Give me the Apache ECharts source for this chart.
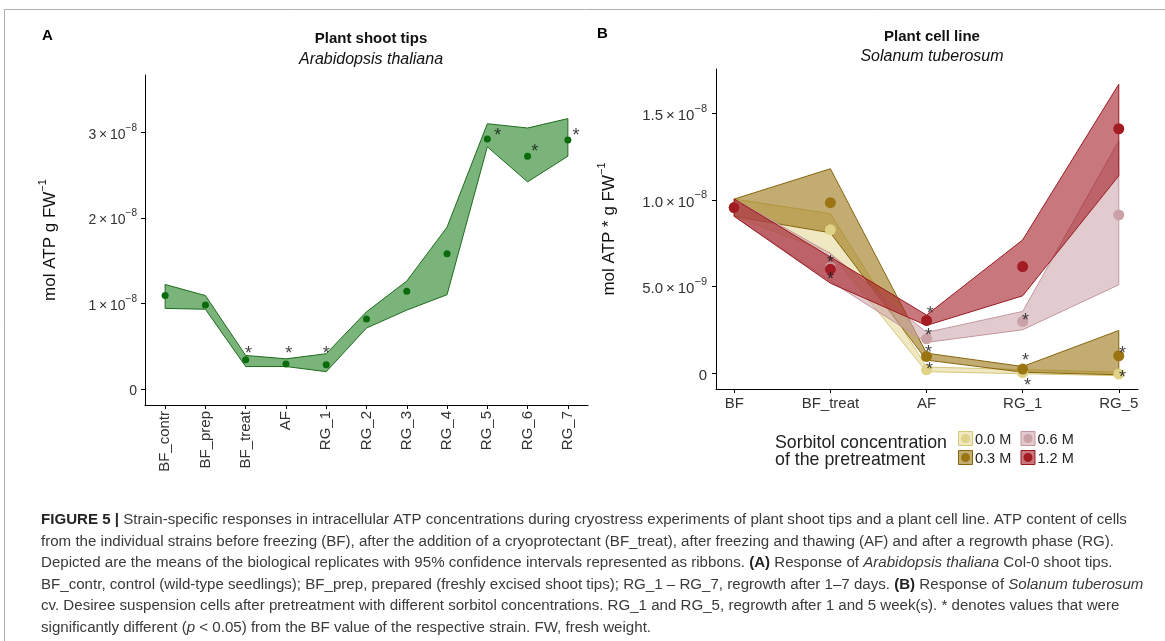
<!DOCTYPE html>
<html><head><meta charset="utf-8">
<script src="https://cdn.jsdelivr.net/npm/echarts@6/dist/echarts.min.js"></script>
<style>html,body{margin:0;padding:0;background:#fff}#c{width:1165px;height:641px}</style>
</head><body><div id="c"></div>
<script>
// ---------- Panel A data (values in units of 1e-8 mol ATP g FW^-1) ----------
const catsA = ['BF_contr','BF_prep','BF_treat','AF','RG_1','RG_2','RG_3','RG_4','RG_5','RG_6','RG_7'];
const meanA = [1.09, 0.98, 0.34, 0.29, 0.28, 0.815, 1.14, 1.58, 2.92, 2.72, 2.91];
const loA   = [0.94, 0.93, 0.26, 0.26, 0.20, 0.71, 0.92, 1.10, 2.83, 2.42, 2.72];
const hiA   = [1.22, 1.09, 0.39, 0.35, 0.41, 0.90, 1.26, 1.89, 3.10, 3.05, 3.16];
// significance stars: [x position (category index), y value]
const starsA = [[2.07,0.45],[3.07,0.45],[4.0,0.45],[8.26,3.0],[9.18,2.815],[10.2,3.0]];
const yTicksA = [0, 1, 2, 3];
const yMantA  = ['0', '1', '2', '3'];
const yExpA   = ['', '−8', '−8', '−8'];

// ---------- Panel B data (values in units of 1e-9 mol ATP * g FW^-1) ----------
const catsB = ['BF','BF_treat','AF','RG_1','RG_5'];
const concB = ['0.0 M','0.3 M','0.6 M','1.2 M'];
const mean00 = [9.56, 8.27, 0.19, 0.02, -0.06];
const mean03 = [9.56, 9.84, 0.96, 0.23, 1.00];
const mean06 = [9.56, 6.10, 1.98, 2.98, 9.13];
const mean12 = [9.56, 6.00, 3.04, 6.15, 14.11];
const lo00 = [9.05, 6.95, 0.08, -0.04, -0.15];
const lo03 = [9.05, 8.10, 0.75, 0.05, -0.10];
const lo06 = [9.05, 5.30, 1.77, 2.50, 5.10];
const lo12 = [9.05, 5.19, 2.75, 4.46, 11.39];
const hi00 = [10.05, 9.20, 0.35, 0.20, 0.05];
const hi03 = [10.05, 11.80, 1.15, 0.38, 2.46];
const hi06 = [10.05, 6.90, 2.35, 3.56, 13.40];
const hi12 = [10.05, 6.70, 3.35, 7.69, 16.68];
const starsB = [[1.0,6.58],[1.0,5.61],[2.04,3.65],[2.02,2.37],[2.02,1.40],[2.03,0.38],
                [3.03,3.21],[3.03,0.92],[3.05,-0.52],[4.04,1.35],[4.04,-0.06]];
const yTicksB = [0, 5, 10, 15];
const yMantB  = ['0', '5.0', '1.0', '1.5'];
const yExpB   = ['', '−9', '−8', '−8'];

// ---------- styles ----------
const FONT = 'Liberation Sans, Arial, Helvetica, sans-serif';
const TXT = '#333333';
const colB    = ['#e0d286', '#9a7512', '#c9a1a6', '#a31c24'];
const fillB   = ['rgba(224,210,134,0.5)', 'rgba(154,117,18,0.6)', 'rgba(201,161,166,0.55)', 'rgba(163,28,36,0.6)'];
const strokeB = ['#d6c87a', '#86660f', '#c397a0', '#9a1a22'];

const meansB = [mean00, mean03, mean06, mean12];
const losB = [lo00, lo03, lo06, lo12];
const hisB = [hi00, hi03, hi06, hi12];

function idx(n){ return Array.from({length:n}, (_, i) => i); }

function ribbon(xs, lo, hi, fill, stroke, axis, z){
  return {
    type: 'custom', xAxisIndex: axis, yAxisIndex: axis, z: z, silent: true, clip: false,
    data: [[xs[0], lo[0]]],
    renderItem: function(params, api){
      const pts = [];
      for (let i = 0; i < xs.length; i++) pts.push(api.coord([xs[i], hi[i]]));
      for (let i = xs.length - 1; i >= 0; i--) pts.push(api.coord([xs[i], lo[i]]));
      return {type: 'polygon', shape: {points: pts}, style: {fill: fill, stroke: stroke, lineWidth: 1}};
    }
  };
}
function points(xs, ys, color, size, axis, z){
  return {type: 'scatter', xAxisIndex: axis, yAxisIndex: axis, z: z, silent: true,
    symbol: 'circle', symbolSize: size, itemStyle: {color: color, opacity: 1},
    data: xs.map((x, i) => [x, ys[i]])};
}
function stars(list, axis){
  return {type: 'scatter', xAxisIndex: axis, yAxisIndex: axis, z: 20, silent: true,
    symbolSize: 1, itemStyle: {color: 'rgba(0,0,0,0)'},
    label: {show: true, formatter: '*', position: 'inside', fontSize: 18, fontFamily: FONT,
            color: '#111', offset: [0, 4]},
    data: list};
}
function tickFmt(ticks, mant, exp){
  return function(v){
    const k = ticks.indexOf(Math.round(v * 1000) / 1000);
    if (k < 0) return '';
    return exp[k] ? '{m|' + mant[k] + '\u2009×\u200910}{e|' + exp[k] + '}' : '{m|' + mant[k] + '}';
  };
}
function tickRich(fs){
  return {m: {fontSize: fs, fontFamily: FONT, color: TXT, lineHeight: fs + 5, verticalAlign: 'bottom'},
          e: {fontSize: Math.round(fs * 0.7), fontFamily: FONT, color: TXT, lineHeight: Math.round(fs * 0.7), verticalAlign: 'top'}};
}

const xsA = idx(catsA.length);
const xsB = idx(catsB.length);

const series = [];
series.push(ribbon(xsA, loA, hiA, 'rgba(34,130,34,0.6)', '#1f6b1f', 0, 2));
series.push(points(xsA, meanA, '#0b6a0b', 7, 0, 5));
series.push(stars(starsA, 0));
for (let s = 0; s < 4; s++) series.push(ribbon(xsB, losB[s], hisB[s], fillB[s], strokeB[s], 1, 2 + s * 0.01));
for (let s = 0; s < 4; s++) series.push(points(xsB, meansB[s], colB[s], 11, 1, 5));
series.push(stars(starsB, 1));

const axisLine = {show: true, onZero: false, lineStyle: {color: '#000', width: 1}};
const axisTick = {show: true, length: 4, lineStyle: {color: '#000', width: 1}};

// caption lines: segments [style, text]
const caption = [
  [['b','FIGURE 5 | '],['n','Strain-specific responses in intracellular ATP concentrations during cryostress experiments of plant shoot tips and a plant cell line. ATP content of cells']],
  [['n','from the individual strains before freezing (BF), after the addition of a cryoprotectant (BF_treat), after freezing and thawing (AF) and after a regrowth phase (RG).']],
  [['n','Depicted are the means of the biological replicates with 95% confidence intervals represented as ribbons. '],['b','(A)'],['n',' Response of '],['i','Arabidopsis thaliana'],['n',' Col-0 shoot tips.']],
  [['n','BF_contr, control (wild-type seedlings); BF_prep, prepared (freshly excised shoot tips); RG_1 – RG_7, regrowth after 1–7 days. '],['b','(B)'],['n',' Response of '],['i','Solanum tuberosum']],
  [['n','cv. Desiree suspension cells after pretreatment with different sorbitol concentrations. RG_1 and RG_5, regrowth after 1 and 5 week(s). * denotes values that were']],
  [['n','significantly different ('],['i','p'],['n',' < 0.05) from the BF value of the respective strain. FW, fresh weight.']]
];
const capY = [520, 541.5, 563, 584.5, 606, 627.5];
const CAPFS = 15.1;
const capRich = {
  n: {fontSize: CAPFS, fontFamily: FONT, fill: '#3a3a3a'},
  b: {fontSize: CAPFS, fontFamily: FONT, fontWeight: 'bold', fill: '#222'},
  i: {fontSize: CAPFS, fontFamily: FONT, fontStyle: 'italic', fill: '#3a3a3a'}
};

const graphic = [];
graphic.push({type: 'line', shape: {x1: 4, y1: 9.5, x2: 1165, y2: 9.5}, style: {stroke: '#b0b0b0', lineWidth: 1}, silent: true});
graphic.push({type: 'line', shape: {x1: 4.5, y1: 9.5, x2: 4.5, y2: 641}, style: {stroke: '#b0b0b0', lineWidth: 1}, silent: true});
capY.forEach((y, k) => {
  graphic.push({type: 'text', x: 41, y: y, silent: true,
    style: {text: caption[k].map(s => '{' + s[0] + '|' + s[1] + '}').join(''), rich: capRich,
            verticalAlign: 'middle', align: 'left'}});
});
// Panel letters
graphic.push({type: 'text', x: 42, y: 36, silent: true, style: {text: 'A', font: 'bold 15px ' + FONT, fill: '#000', verticalAlign: 'middle'}});
graphic.push({type: 'text', x: 597, y: 34, silent: true, style: {text: 'B', font: 'bold 15px ' + FONT, fill: '#000', verticalAlign: 'middle'}});
// Legend for panel B
graphic.push({type: 'text', x: 775, y: 443, silent: true, style: {text: 'Sorbitol concentration', font: '17.8px ' + FONT, fill: '#222', verticalAlign: 'middle'}});
graphic.push({type: 'text', x: 775, y: 460.5, silent: true, style: {text: 'of the pretreatment', font: '17.8px ' + FONT, fill: '#222', verticalAlign: 'middle'}});
const legPos = [[965.5, 438.5], [965.5, 457.5], [1028, 438.5], [1028, 457.5]];
for (let s = 0; s < 4; s++) {
  const [cx, cy] = legPos[s];
  graphic.push({type: 'rect', silent: true, shape: {x: cx - 7, y: cy - 7, width: 14, height: 14},
    style: {fill: fillB[s], stroke: strokeB[s], lineWidth: 1}});
  graphic.push({type: 'circle', silent: true, shape: {cx: cx, cy: cy, r: 4.5}, style: {fill: colB[s]}});
  graphic.push({type: 'text', x: cx + 9.5, y: cy + 1.5, silent: true,
    style: {text: concB[s], font: '14.5px ' + FONT, fill: '#222', verticalAlign: 'middle'}});
}

const option = {
  animation: false,
  backgroundColor: '#fff',
  textStyle: {fontFamily: FONT},
  title: [
    {text: 'Plant shoot tips', subtext: 'Arabidopsis thaliana', left: 366, top: 26, textAlign: 'center', itemGap: 6,
     textStyle: {fontSize: 15, fontWeight: 'bold', color: '#111', fontFamily: FONT},
     subtextStyle: {fontSize: 16, fontStyle: 'italic', color: '#111', fontFamily: FONT}},
    {text: 'Plant cell line', subtext: 'Solanum tuberosum', left: 927, top: 24, textAlign: 'center', itemGap: 5,
     textStyle: {fontSize: 15, fontWeight: 'bold', color: '#111', fontFamily: FONT},
     subtextStyle: {fontSize: 16, fontStyle: 'italic', color: '#111', fontFamily: FONT}}
  ],
  grid: [
    {left: 145, top: 75, width: 443, height: 330, containLabel: false},
    {left: 716, top: 69, width: 422, height: 320, containLabel: false}
  ],
  xAxis: [
    {type: 'value', gridIndex: 0, min: -0.5, max: 10.5, splitLine: {show: false},
     axisLine: axisLine, axisTick: Object.assign({customValues: xsA}, axisTick),
     axisLabel: {customValues: xsA, rotate: 90, margin: 6, fontSize: 15, color: TXT, fontFamily: FONT,
                 formatter: v => catsA[Math.round(v)]}},
    {type: 'value', gridIndex: 1, min: -0.19, max: 4.2, splitLine: {show: false},
     axisLine: axisLine, axisTick: Object.assign({customValues: xsB}, axisTick),
     axisLabel: {customValues: xsB, margin: 7, fontSize: 15, color: TXT, fontFamily: FONT,
                 formatter: v => catsB[Math.round(v)]}}
  ],
  yAxis: [
    {type: 'value', gridIndex: 0, min: -0.19, max: 3.67, splitLine: {show: false},
     axisLine: axisLine, axisTick: Object.assign({customValues: yTicksA}, axisTick),
     axisLabel: {customValues: yTicksA, margin: 8, formatter: tickFmt(yTicksA, yMantA, yExpA), rich: tickRich(14)},
     name: '{t|mol ATP g FW}{e|−1}', nameLocation: 'middle', nameGap: 86,
     nameTextStyle: {rich: {t: {fontSize: 17, fontFamily: FONT, color: '#111', lineHeight: 22, verticalAlign: 'bottom'},
                             e: {fontSize: 11, fontFamily: FONT, color: '#111', lineHeight: 11, verticalAlign: 'top'}}}},
    {type: 'value', gridIndex: 1, min: -0.92, max: 17.56, splitLine: {show: false},
     axisLine: axisLine, axisTick: Object.assign({customValues: yTicksB}, axisTick),
     axisLabel: {customValues: yTicksB, margin: 9, formatter: tickFmt(yTicksB, yMantB, yExpB), rich: tickRich(15)},
     name: '{t|mol ATP * g FW}{e|−1}', nameLocation: 'middle', nameGap: 98,
     nameTextStyle: {rich: {t: {fontSize: 17, fontFamily: FONT, color: '#111', lineHeight: 22, verticalAlign: 'bottom'},
                             e: {fontSize: 11, fontFamily: FONT, color: '#111', lineHeight: 11, verticalAlign: 'top'}}}}
  ],
  graphic: graphic,
  series: series
};
const chart = echarts.init(document.getElementById('c'), null, {renderer: 'canvas'});
chart.setOption(option);
</script></body></html>
